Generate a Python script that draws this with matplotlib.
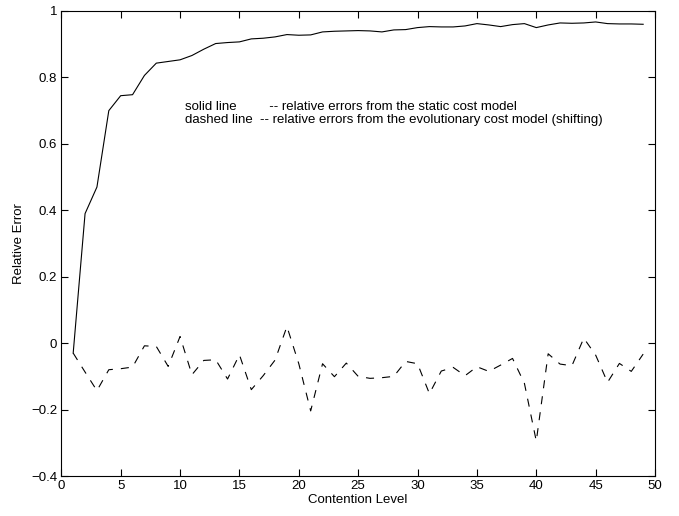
import matplotlib
matplotlib.use("Agg")
import matplotlib.pyplot as plt
from matplotlib.ticker import FuncFormatter

plt.rcParams["font.family"] = ["Liberation Sans", "DejaVu Sans"]
plt.rcParams["font.size"] = 9.5
plt.rcParams["lines.scale_dashes"] = False

# contention levels 1..49
level = list(range(1, 50))

# solid line: static cost model
static_err = [-0.03, 0.39, 0.47, 0.70, 0.745, 0.748, 0.806, 0.843, 0.848, 0.853,
              0.866, 0.885, 0.902, 0.905, 0.907, 0.916, 0.918, 0.922, 0.929, 0.927,
              0.928, 0.937, 0.939, 0.940, 0.941, 0.940, 0.937, 0.943, 0.944, 0.950,
              0.953, 0.952, 0.952, 0.955, 0.962, 0.958, 0.953, 0.959, 0.962, 0.950,
              0.958, 0.964, 0.963, 0.964, 0.967, 0.962, 0.961, 0.961, 0.960]

# dashed line: evolutionary cost model (shifting)
evo_err = [-0.03, -0.087, -0.143, -0.08, -0.077, -0.072, -0.008, -0.01, -0.07, 0.02,
           -0.095, -0.052, -0.05, -0.108, -0.035, -0.14, -0.098, -0.051, 0.05, -0.062,
           -0.204, -0.062, -0.101, -0.06, -0.10, -0.106, -0.104, -0.10, -0.055, -0.062,
           -0.152, -0.084, -0.073, -0.098, -0.071, -0.085, -0.066, -0.046, -0.121, -0.295,
           -0.032, -0.063, -0.068, 0.015, -0.036, -0.118, -0.061, -0.085, -0.033]

xticks = [0, 5, 10, 15, 20, 25, 30, 35, 40, 45, 50]
yticks = [-0.4, -0.2, 0, 0.2, 0.4, 0.6, 0.8, 1]

fig = plt.figure(figsize=(6.79, 5.16), dpi=100)
ax = fig.add_axes([0.0903, 0.0775, 0.8744, 0.9012])

ax.plot(level, static_err, color="black", linewidth=0.8)
ax.plot(level, evo_err, color="black", linewidth=0.8, dashes=(5.8, 5.8))

ax.set_xlim(0, 50)
ax.set_ylim(-0.4, 1)
ax.set_xticks(xticks)
ax.set_yticks(yticks)
ax.yaxis.set_major_formatter(FuncFormatter(lambda v, p: f"{v:g}".replace("-", "\u2212")))
ax.tick_params(direction="in", top=True, right=True, length=5, width=0.8, pad=3)
for s in ax.spines.values():
    s.set_linewidth(0.8)

ax.set_xlabel("Contention Level", labelpad=1)
ax.set_ylabel("Relative Error", labelpad=4)

ax.text(10.4, 0.711, "solid line         -- relative errors from the static cost model",
        va="center", ha="left")
ax.text(10.4, 0.672, "dashed line  -- relative errors from the evolutionary cost model (shifting)",
        va="center", ha="left")

fig.savefig("out.png", dpi=100)
